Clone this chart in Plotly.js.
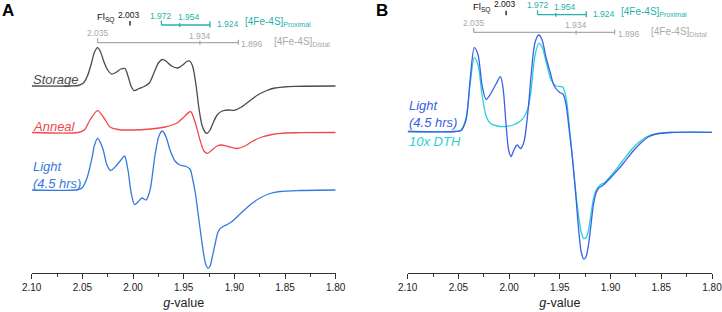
<!DOCTYPE html>
<html>
<head>
<meta charset="utf-8">
<script src="https://cdn.plot.ly/plotly-3.0.1.min.js"></script>
<style>html,body{margin:0;padding:0;background:#fff;}#chart{width:722px;height:312px;}</style>
</head>
<body>
<div id="chart"></div>
<script>
// ---------- data ----------
// Panel A
const gStorage = [2.100, 2.062, 2.054, 2.049, 2.045, 2.041, 2.038, 2.035, 2.032, 2.029, 2.025, 2.021, 2.017, 2.012, 2.008, 2.005, 2.002, 1.999, 1.994, 1.989, 1.984, 1.979, 1.975, 1.971, 1.967, 1.962, 1.956, 1.951, 1.947, 1.944, 1.941, 1.938, 1.935, 1.932, 1.929, 1.927, 1.924, 1.921, 1.917, 1.912, 1.906, 1.900, 1.893, 1.885, 1.877, 1.868, 1.860, 1.852, 1.840, 1.800];
const iStorage = [0, 0, 0.5, 3, 10, 23, 34, 38.3, 34, 25, 16, 12, 13.5, 17, 17.5, 10, 0, -4.7, -2.5, -0.5, 3, 14, 23, 26.7, 24.5, 20, 18, 21, 24.5, 25, 19, 2, -22, -39, -46, -47.3, -44, -37, -29, -25, -24, -24.3, -21, -15, -9, -4.5, -2, -1, -0.3, 0];

const gAnneal = [2.100, 2.054, 2.048, 2.0425, 2.035, 2.0286, 2.0227, 2.0148, 2.000, 1.983, 1.9685, 1.9566, 1.9497, 1.9433, 1.9388, 1.9339, 1.930, 1.9265, 1.9221, 1.9171, 1.9127, 1.9063, 1.8974, 1.8895, 1.8816, 1.8727, 1.8629, 1.850, 1.835, 1.800];
const iAnneal = [0, 0, 2.5, 12.5, 21.8, 14.5, 5.5, 3, 2.5, 3.5, 5.5, 9.5, 15.5, 21, 10.5, -7.5, -18.5, -20.8, -17.5, -13.5, -12.5, -14, -16, -13.5, -8.5, -4.5, -2, -0.5, -0.2, 0];

const gLightA = [2.100, 2.0573, 2.0504, 2.0454, 2.0405, 2.038, 2.0349, 2.032, 2.0294, 2.0257, 2.0222, 2.0168, 2.0119, 2.0084, 2.005, 2.002, 1.9985, 1.9951, 1.9911, 1.9872, 1.9832, 1.9783, 1.9744, 1.9711, 1.9674, 1.9635, 1.9586, 1.9537, 1.9477, 1.9438, 1.941, 1.9385, 1.936, 1.933, 1.930, 1.928, 1.926, 1.924, 1.922, 1.919, 1.9165, 1.914, 1.911, 1.907, 1.903, 1.8944, 1.8846, 1.8747, 1.8648, 1.855, 1.8352, 1.80];
const iLightA = [0, 0, 2, 12, 32, 45, 51.7, 47, 40, 25, 19.5, 24, 30, 34, 20, -2, -14.5, -12, -8, -10, 0, 35, 54, 59, 53, 40, 29, 25, 23.5, 21, 10, -3, -22, -45, -66, -75, -78.3, -76, -68, -54, -43, -38.5, -36.5, -34.5, -32, -24, -15, -8, -3.5, -1.5, -0.5, 0];

// Panel B
const gLightB = [2.100, 2.0533, 2.0474, 2.0425, 2.0385, 2.0343, 2.0306, 2.0267, 2.0227, 2.0178, 2.0129, 2.0086, 2.006, 2.003, 2.0005, 1.9981, 1.9951, 1.992, 1.9887, 1.9853, 1.9813, 1.9783, 1.9744, 1.9707, 1.9675, 1.9635, 1.9596, 1.9556, 1.9507, 1.9467, 1.9438, 1.9408, 1.9379, 1.9339, 1.9315, 1.929, 1.9265, 1.9245, 1.922, 1.9195, 1.917, 1.9145, 1.912, 1.9072, 1.8984, 1.8875, 1.8786, 1.8707, 1.8629, 1.855, 1.8411, 1.80];
const iLightB = [0, 0, 1, 11.5, 51.5, 83.8, 76.5, 46.5, 32.2, 38.5, 47.5, 54.8, 43.5, 6.5, -18.5, -25, -18, -13.5, -17, -10, 21.5, 56.5, 89.5, 96.5, 91.5, 73.5, 59.5, 45.5, 39.5, 37, 26.5, 1.5, -23.5, -68.5, -98, -120, -127.5, -126, -115, -95, -74, -62, -57, -53.5, -44.5, -32, -20.5, -12, -5.5, -2.5, -1, -0.8];

const gDTH = [2.100, 2.0533, 2.0474, 2.0425, 2.0385, 2.0343, 2.0306, 2.0267, 2.0227, 2.0188, 2.0119, 2.004, 1.9961, 1.9902, 1.9853, 1.9813, 1.9783, 1.9744, 1.9707, 1.9675, 1.9635, 1.9586, 1.9537, 1.9472, 1.9438, 1.9403, 1.9369, 1.9329, 1.929, 1.9265, 1.9245, 1.922, 1.9195, 1.917, 1.9142, 1.9102, 1.9053, 1.8975, 1.8886, 1.8797, 1.8718, 1.8639, 1.856, 1.8411, 1.80];
const iDTH = [0, 0, 1.5, 13.5, 46.5, 73.8, 66.5, 36.5, 15.5, 8.5, 5.5, 5, 6.5, 9.5, 14.5, 23.5, 41.5, 76.5, 88.2, 84.5, 69.5, 51.5, 45.5, 44.5, 33.5, 1.5, -33.5, -73.5, -100.5, -107, -106.5, -100, -84, -68, -58.5, -53.5, -50.5, -41.5, -30, -18.5, -10.5, -5, -2.5, -1, -0.8];

// stacking offsets of each spectrum (baseline heights)
const offStorage = 187, offAnneal = 140.5, offLightA = 83, offB = 141.5;

// marker g-values
const flG = 2.003;
const proxG = [1.972, 1.954, 1.924];
const distG = [2.035, 1.934, 1.896];

const tickVals = [2.10, 2.05, 2.00, 1.95, 1.90, 1.85, 1.80];
const tickText = ['2.10', '2.05', '2.00', '1.95', '1.90', '1.85', '1.80'];

// ---------- styles ----------
const FONT = 'Liberation Sans, Arial, sans-serif';
const C = {storage:'#4b4b4b', anneal:'#f0484b', lightA:'#3479e0', lightB:'#3a60e6', dth:'#2bd0d4', teal:'#27b1ab', gray:'#a9a9a9', black:'#111'};
const H = 312, W = 722, AX = 273;

const shift = (arr, off) => arr.map(v => v + off);
const tr = (g, i, off, color, xa, ya) => ({x:g, y:shift(i, off), type:'scatter', mode:'lines',
  line:{color:color, width:1.3, shape:'spline', smoothing:0.8}, xaxis:xa, yaxis:ya, hoverinfo:'skip', showlegend:false});

const data = [
  tr(gStorage, iStorage, offStorage, C.storage, 'x', 'y'),
  tr(gAnneal, iAnneal, offAnneal, C.anneal, 'x', 'y'),
  tr(gLightA, iLightA, offLightA, C.lightA, 'x', 'y'),
  tr(gDTH, iDTH, offB, C.dth, 'x2', 'y2'),
  tr(gLightB, iLightB, offB, C.lightB, 'x2', 'y2')
];

const py = p => 1 - p / H;       // pixel row -> paper
const yd = p => AX - p;          // pixel row -> y data

const annotations = [];
const shapes = [];
function txt(o) {
  annotations.push(Object.assign({showarrow:false, borderpad:0, align:'left', font:{family:FONT, size:9, color:C.black}}, o));
}
function seg(xref, yref, x0, x1, p0, p1, color) {
  shapes.push({type:'line', xref:xref, yref:yref, x0:x0, x1:x1, y0:yd(p0), y1:yd(p1), line:{color:color, width:1.3}});
}

function panelMarks(xref, yref, dy) {
  // Fl SQ
  txt({xref:xref, yref:'paper', x:distG[0], xanchor:'left', xshift:-2, y:py(17.5 - dy), yanchor:'middle',
       text:'Fl<sub>SQ</sub>', font:{family:FONT, size:9.5, color:C.black}});
  txt({xref:xref, yref:'paper', x:flG, xanchor:'center', xshift:-1, y:py(14.5 - dy), yanchor:'middle',
       text:'2.003', font:{family:FONT, size:8.5, color:C.black}});
  seg(xref, yref, flG, flG, 21 - dy, 25.5 - dy, C.black);
  // proximal bracket
  const pl = 25 - dy;
  seg(xref, yref, proxG[0], proxG[2], pl, pl, C.teal);
  seg(xref, yref, proxG[0], proxG[0], pl - 4.5, pl, C.teal);
  seg(xref, yref, proxG[1], proxG[1], pl - 2, pl + 2, C.teal);
  seg(xref, yref, proxG[2], proxG[2], pl - 3.5, pl + 2.5, C.teal);
  txt({xref:xref, yref:'paper', x:proxG[0], xanchor:'center', y:py(15.5 - dy), yanchor:'middle',
       text:proxG[0].toFixed(3), font:{family:FONT, size:8.5, color:C.teal}});
  txt({xref:xref, yref:'paper', x:proxG[1], xanchor:'center', xshift:9, y:py(17.3 - dy), yanchor:'middle',
       text:proxG[1].toFixed(3), font:{family:FONT, size:8.5, color:C.teal}});
  txt({xref:xref, yref:'paper', x:proxG[2], xanchor:'left', xshift:6, y:py(24.3 - dy), yanchor:'middle',
       text:proxG[2].toFixed(3), font:{family:FONT, size:8.5, color:C.teal}});
  txt({xref:xref, yref:'paper', x:proxG[2], xanchor:'left', xshift:34, y:py(22.5 - dy), yanchor:'middle',
       text:'[4Fe-4S]<sub>Proximal</sub>', font:{family:FONT, size:10, color:C.teal}});
  // distal bracket
  const dl = 42.7 - dy;
  seg(xref, yref, distG[0], distG[2], dl, dl, C.gray);
  seg(xref, yref, distG[0], distG[0], dl - 4.5, dl, C.gray);
  seg(xref, yref, distG[1], distG[1], dl - 2, dl + 2, C.gray);
  seg(xref, yref, distG[2], distG[2], dl - 3, dl + 2, C.gray);
  txt({xref:xref, yref:'paper', x:distG[0], xanchor:'center', y:py(33.3 - dy), yanchor:'middle',
       text:distG[0].toFixed(3), font:{family:FONT, size:8.5, color:C.gray}});
  txt({xref:xref, yref:'paper', x:distG[1], xanchor:'center', y:py(35.7 - dy), yanchor:'middle',
       text:distG[1].toFixed(3), font:{family:FONT, size:8.5, color:C.gray}});
  txt({xref:xref, yref:'paper', x:distG[2], xanchor:'left', xshift:2, y:py(44 - dy), yanchor:'middle',
       text:distG[2].toFixed(3), font:{family:FONT, size:8.5, color:C.gray}});
  txt({xref:xref, yref:'paper', x:distG[2], xanchor:'left', xshift:35, y:py(42.5 - dy), yanchor:'middle',
       text:'[4Fe-4S]<sub>Distal</sub>', font:{family:FONT, size:10, color:C.gray}});
}
panelMarks('x', 'y', 0);
panelMarks('x2', 'y2', 10.3);

// panel letters
txt({xref:'paper', yref:'paper', x:8/W, xanchor:'center', y:py(11), yanchor:'middle', text:'<b>A</b>', font:{family:FONT, size:17, color:'#000'}});
txt({xref:'paper', yref:'paper', x:382/W, xanchor:'center', y:py(11), yanchor:'middle', text:'<b>B</b>', font:{family:FONT, size:17, color:'#000'}});

// trace labels
const lab = (xref, p, text, color) => txt({xref:xref, yref:'paper', x:2.10, xanchor:'left', y:py(p), yanchor:'middle',
  text:'<i>' + text + '</i>', font:{family:FONT, size:13, color:color}});
lab('x', 79, 'Storage', C.storage);
lab('x', 126, 'Anneal', C.anneal);
lab('x', 174.5, 'Light<br>(4.5 hrs)', C.lightA);
lab('x2', 114, 'Light<br>(4.5 hrs)', C.lightB);
lab('x2', 141.7, '10x DTH', C.dth);

const xax = (dom, anchor) => ({domain:dom, anchor:anchor, range:[2.10, 1.80], autorange:false,
  tickmode:'array', tickvals:tickVals, ticktext:tickText, ticklabeloverflow:'allow',
  showline:true, linecolor:'#333', linewidth:1, ticks:'outside', ticklen:5, tickwidth:1, tickcolor:'#333',
  minor:{dtick:0.025, tick0:1.80, ticks:'outside', ticklen:3, tickwidth:1, tickcolor:'#333'},
  showgrid:false, zeroline:false, tickfont:{family:FONT, size:10, color:'#222'},
  title:{text:'<i>g</i>-value', font:{family:FONT, size:12.5, color:'#222'}, standoff:6}, fixedrange:true});
const yax = (anchor) => ({domain:[(H - AX) / H, 1], anchor:anchor, range:[0, AX], visible:false, fixedrange:true});

const layout = {
  width:W, height:H, margin:{l:0, r:0, t:0, b:0}, paper_bgcolor:'#fff', plot_bgcolor:'rgba(0,0,0,0)',
  xaxis:xax([31.7 / W, 335.7 / W], 'y'),
  yaxis:yax('x'),
  xaxis2:xax([407.7 / W, 712 / W], 'y2'),
  yaxis2:yax('x2'),
  annotations:annotations, shapes:shapes, showlegend:false
};
Plotly.newPlot('chart', data, layout, {staticPlot:true, displayModeBar:false});
</script>
</body>
</html>
